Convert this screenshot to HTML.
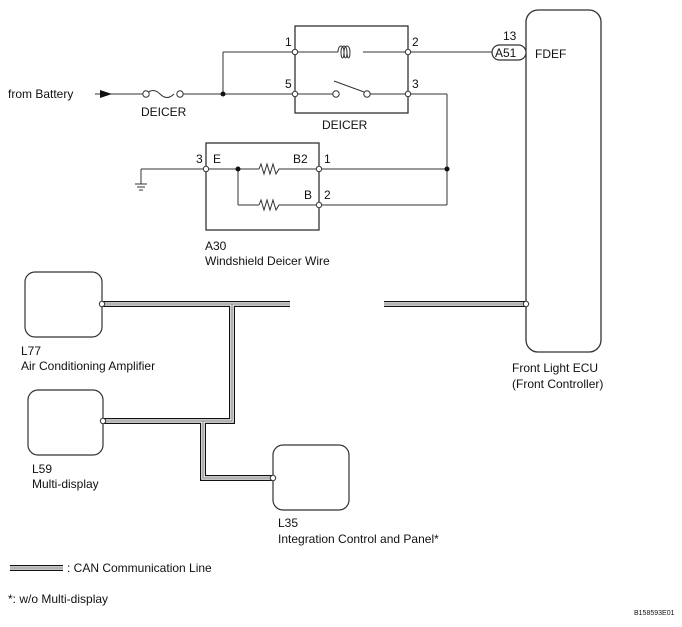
<!DOCTYPE html>
<html><head><meta charset="utf-8"><style>
html,body{margin:0;padding:0;background:#fff;}
svg{display:block;font-family:"Liberation Sans",Arial,sans-serif;}
text{font-size:12px;fill:#111;}
</style></head><body>
<svg width="682" height="627" viewBox="0 0 682 627" xmlns="http://www.w3.org/2000/svg">
<g stroke="#333" stroke-width="1" fill="none">
<!-- battery line -->
<line x1="95" y1="94" x2="143" y2="94"/>
<line x1="183" y1="94" x2="295" y2="94"/>
<path d="M146 94 q7 -7 14 0 q7 7 14 0" />
<circle cx="146" cy="94" r="3.2" fill="#fff"/>
<circle cx="180" cy="94" r="3.2" fill="#fff"/>
<line x1="223" y1="94" x2="223" y2="52"/>
<line x1="223" y1="52" x2="295" y2="52"/>
<!-- relay box -->
<rect x="295" y="26" width="113" height="87" stroke-width="1.3"/>
<line x1="295" y1="52" x2="338" y2="52"/>
<path d="M338 52 c0 -8 6 -8 6 0 c0 8 -3 8 -3 0 c0 -8 6 -8 6 0 c0 8 -3 8 -3 0 c0 -8 6 -8 6 0 c0 8 -3 8 -3 0" />
<line x1="363" y1="52" x2="408" y2="52"/>
<line x1="295" y1="94" x2="333" y2="94"/>
<circle cx="336" cy="94" r="3.2" fill="#fff"/>
<line x1="334" y1="81" x2="364" y2="92"/>
<circle cx="367" cy="94" r="3.2" fill="#fff"/>
<line x1="370" y1="94" x2="408" y2="94"/>
<line x1="408" y1="52" x2="492" y2="52"/>
<line x1="408" y1="94" x2="447" y2="94"/>
<line x1="447" y1="94" x2="447" y2="205"/>
<line x1="319" y1="169" x2="447" y2="169"/>
<line x1="319" y1="205" x2="447" y2="205"/>
<!-- A30 -->
<rect x="206" y="143" width="113" height="87" stroke-width="1.3"/>
<line x1="141" y1="169" x2="206" y2="169"/>
<line x1="141" y1="169" x2="141" y2="184"/>
<line x1="135" y1="184" x2="147" y2="184"/>
<line x1="137" y1="187" x2="145" y2="187"/>
<line x1="139" y1="190" x2="143" y2="190"/>
<line x1="206" y1="169" x2="259" y2="169"/>
<polyline points="259,169 261,164 264,174 267,164 270,174 273,164 276,174 279,169 319,169"/>
<line x1="238" y1="169" x2="238" y2="205"/>
<line x1="238" y1="205" x2="259" y2="205"/>
<polyline points="259,205 261,200 264,210 267,200 270,210 273,200 276,210 279,205 319,205"/>
<!-- ECU -->
<rect x="526" y="10" width="75" height="342" rx="12" stroke-width="1.3"/>
<rect x="492" y="45" width="34" height="15" rx="7.5" fill="#fff" stroke-width="1.2"/>
<!-- modules -->
<rect x="25" y="272" width="77" height="65" rx="10" stroke-width="1.2"/>
<rect x="28" y="390" width="75" height="65" rx="10" stroke-width="1.2"/>
<rect x="273" y="445" width="76" height="65" rx="10" stroke-width="1.2"/>
</g>
<polygon points="100,90 112,94 100,98" fill="#111"/>
<g fill="#111"><circle cx="223" cy="94" r="2.5"/><circle cx="447" cy="169" r="2.5"/><circle cx="238" cy="169" r="2.5"/></g>
<!-- CAN lines -->
<g fill="none" stroke-linejoin="miter">
<g stroke="#111" stroke-width="6">
<polyline points="102,304 290,304"/>
<polyline points="232,304 232,421 102,421"/>
<polyline points="203,421 203,478 273,478"/>
<polyline points="384,304 526,304"/>
<line x1="10" y1="568" x2="63" y2="568"/>
</g>
<g stroke="#fff" stroke-width="3.6">
<polyline points="102,304 290,304"/>
<polyline points="232,304 232,421 102,421"/>
<polyline points="203,421 203,478 273,478"/>
<polyline points="384,304 526,304"/>
<line x1="10" y1="568" x2="63" y2="568"/>
</g>
<g stroke="#888" stroke-width="1.3">
<polyline points="102,304 290,304"/>
<polyline points="232,304 232,421 102,421"/>
<polyline points="203,421 203,478 273,478"/>
<polyline points="384,304 526,304"/>
<line x1="10" y1="568" x2="63" y2="568"/>
</g>
</g>
<g fill="#fff" stroke="#333" stroke-width="1">
<circle cx="295" cy="52" r="2.7"/><circle cx="295" cy="94" r="2.7"/>
<circle cx="408" cy="52" r="2.7"/><circle cx="408" cy="94" r="2.7"/>
<circle cx="206" cy="169" r="2.7"/><circle cx="319" cy="169" r="2.7"/><circle cx="319" cy="205" r="2.7"/>
<circle cx="102" cy="304" r="2.7"/><circle cx="526" cy="304" r="2.7"/>
<circle cx="103" cy="421" r="2.7"/><circle cx="273" cy="478" r="2.7"/>
</g>
<text x="8" y="98">from Battery</text>
<text x="141" y="116">DEICER</text>
<text x="322" y="129">DEICER</text>
<text x="285" y="46">1</text><text x="285" y="88">5</text>
<text x="412" y="46">2</text><text x="412" y="88">3</text>
<text x="196" y="163">3</text><text x="213" y="163">E</text>
<text x="293" y="163">B2</text><text x="324" y="163">1</text>
<text x="304" y="199">B</text><text x="324" y="199">2</text>
<text x="205" y="250">A30</text>
<text x="205" y="265">Windshield Deicer Wire</text>
<text x="503" y="40">13</text>
<text x="495" y="57">A51</text>
<text x="535" y="58">FDEF</text>
<text x="512" y="372">Front Light ECU</text>
<text x="512" y="388">(Front Controller)</text>
<text x="21" y="355">L77</text>
<text x="21" y="370">Air Conditioning Amplifier</text>
<text x="32" y="473">L59</text>
<text x="32" y="488">Multi-display</text>
<text x="278" y="527">L35</text>
<text x="278" y="543">Integration Control and Panel*</text>
<text x="67" y="572">: CAN Communication Line</text>
<text x="8" y="603">*: w/o Multi-display</text>
<text x="634" y="615" style="font-size:7px">B158593E01</text>
</svg>
</body></html>
